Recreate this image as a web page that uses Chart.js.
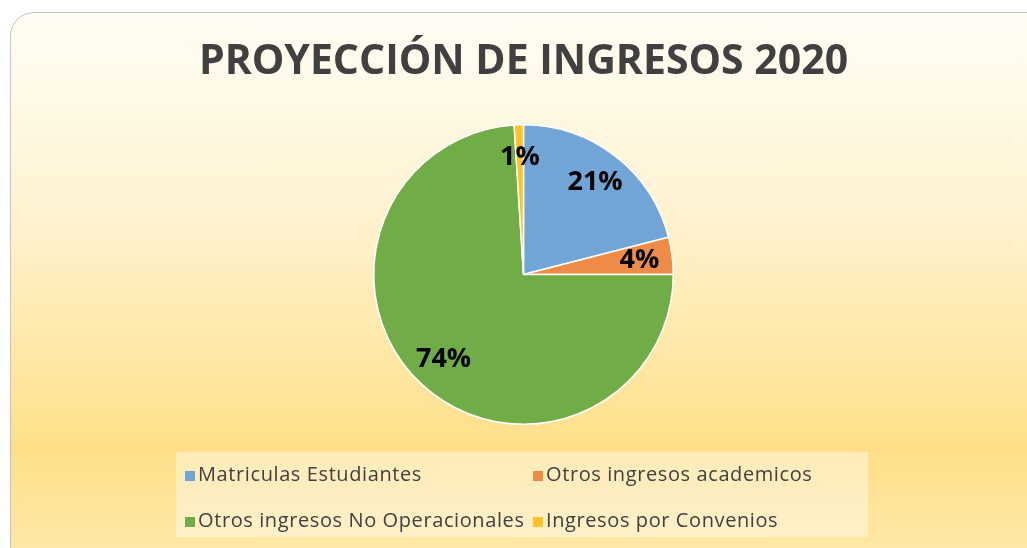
<!DOCTYPE html>
<html>
<head>
<meta charset="utf-8">
<script src="https://cdn.jsdelivr.net/npm/chart.js@4.4.0/dist/chart.umd.min.js"></script>
<style>
  html, body { margin: 0; padding: 0; background: #fff; overflow: hidden; }
  #wrap { position: relative; width: 1027px; height: 548px; overflow: hidden; }
  #panel {
    position: absolute; left: 10px; top: 12px; width: 1040px; height: 560px;
    border: 1.5px solid #c4c4c4; border-radius: 24px; box-sizing: border-box;
    background: linear-gradient(to bottom, #fffdf5 0%, #fff3d2 35%, #ffe6a0 65%, #ffdf88 78%, #ffe9ac 100%);
  }
  #chart { position: absolute; left: 0; top: 0; }
  #legend {
    position: absolute; left: 176px; top: 452px; width: 692px; height: 85px;
    background: rgba(255, 255, 255, 0.4);
    font-family: "Open Sans", sans-serif; font-size: 20px; letter-spacing: 0.6px; color: #404040;
  }
  .item { position: absolute; white-space: nowrap; line-height: 22px; }
  .box { display: inline-block; width: 10px; height: 10px; margin-right: 3px; vertical-align: 0px; }
</style>
</head>
<body>
<div id="wrap">
  <div id="panel"></div>
  <canvas id="chart" width="1027" height="548"></canvas>
  <div id="legend"></div>
</div>
<script>
// Chart data
const categories = ['Matriculas Estudiantes', 'Otros ingresos academicos', 'Otros ingresos No Operacionales', 'Ingresos por Convenios'];
const values = [21, 4, 74, 1];
const sliceColors = ['#71a5d5', '#ee8c47', '#70ad47', '#ffc325'];
const chartTitle = 'PROYECCIÓN DE INGRESOS 2020';

// percentage labels drawn inside each slice
const percentLabels = {
    id: 'percentLabels',
    afterDatasetsDraw(chart) {
        const ctx = chart.ctx;
        const total = values.reduce((a, b) => a + b, 0);
        const meta = chart.getDatasetMeta(0);
        ctx.save();
        ctx.font = 'bold 27px "Open Sans", sans-serif';
        ctx.fillStyle = '#000';
        ctx.textAlign = 'center';
        ctx.textBaseline = 'middle';
        meta.data.forEach(function(arc, i) {
            const mid = (arc.startAngle + arc.endAngle) / 2;
            const r = arc.outerRadius * 0.78;
            const x = arc.x + Math.cos(mid) * r;
            const y = arc.y + Math.sin(mid) * r;
            ctx.fillText(Math.round(values[i] / total * 100) + '%', x, y);
        });
        ctx.restore();
    }
};

new Chart(document.getElementById('chart').getContext('2d'), {
    type: 'pie',
    data: {
        labels: categories,
        datasets: [{
            data: values,
            backgroundColor: sliceColors,
            borderColor: '#ffffff',
            borderWidth: 1.5
        }]
    },
    options: {
        responsive: false,
        animation: false,
        layout: { padding: { left: 20, right: 0, top: 0, bottom: 123 } },
        plugins: {
            legend: { display: false },
            tooltip: { enabled: false },
            title: {
                display: true,
                text: chartTitle,
                color: '#404040',
                font: { family: '"Open Sans", sans-serif', size: 41, weight: 'bold', lineHeight: 1.2 },
                padding: { top: 38, bottom: 36.8 }
            }
        }
    },
    plugins: [percentLabels]
});

// legend in two columns, like the original
const legend = document.getElementById('legend');
const colX = [9, 357];
const rowY = [11, 57];
categories.forEach(function(name, i) {
    const item = document.createElement('div');
    item.className = 'item';
    item.style.left = colX[i % 2] + 'px';
    item.style.top = rowY[Math.floor(i / 2)] + 'px';
    const box = document.createElement('span');
    box.className = 'box';
    box.style.background = sliceColors[i];
    item.appendChild(box);
    item.appendChild(document.createTextNode(name));
    legend.appendChild(item);
});
</script>
</body>
</html>
